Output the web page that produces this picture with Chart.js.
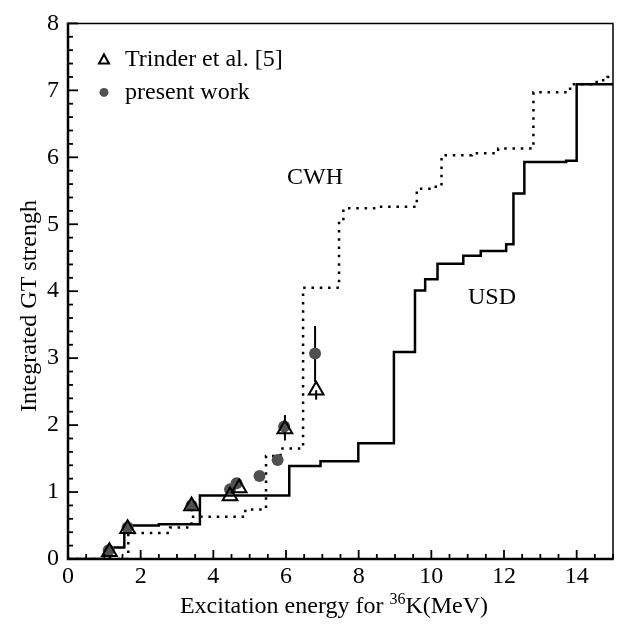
<!DOCTYPE html>
<html><head><meta charset="utf-8">
<script src="https://cdn.jsdelivr.net/npm/chart.js@4.4.0/dist/chart.umd.min.js"></script>
<style>html,body{margin:0;padding:0;background:#fff;overflow:hidden}</style>
</head><body>
<canvas id="c" width="625" height="628" style="width:625px;height:628px;display:block"></canvas>
<script>
// ---- data ----
const usdE = [0, 1.15, 1.55, 2.50, 3.63, 6.09, 6.95, 7.99, 8.97, 9.55, 9.83, 10.17, 10.88, 11.36, 12.06, 12.26, 12.56, 13.71, 14.00, 15.00];
const usdV = [0, 0.17, 0.50, 0.52, 0.95, 1.39, 1.46, 1.73, 3.09, 4.01, 4.18, 4.41, 4.53, 4.60, 4.70, 5.46, 5.93, 5.95, 7.09, 7.09];
const cwhE = [0, 1.66, 2.81, 3.40, 4.88, 5.45, 5.85, 6.47, 7.46, 7.58, 8.53, 9.60, 10.05, 10.28, 11.11, 11.84, 12.81, 13.82, 14.55, 14.85, 15.00];
const cwhV = [0, 0.39, 0.47, 0.63, 0.74, 1.54, 1.65, 4.05, 5.04, 5.24, 5.26, 5.53, 5.56, 6.03, 6.06, 6.13, 6.97, 7.09, 7.15, 7.20, 7.21];
const trinderE = [1.14, 1.64, 3.40, 4.46, 4.71, 5.97, 6.83];
const trinderV = [0.11, 0.45, 0.79, 0.94, 1.06, 1.94, 2.52];
const trinderErrMinus = [0, 0, 0, 0, 0, 0.17, 0.14];
const trinderErrPlus  = [0, 0, 0, 0, 0, 0.21, 0];
const presentE = [1.12, 1.64, 3.40, 4.46, 4.64, 5.27, 5.77, 5.95, 6.80];
const presentV = [0.13, 0.47, 0.80, 1.04, 1.13, 1.24, 1.48, 1.98, 3.07];
const presentErrMinus = [0, 0, 0, 0, 0, 0, 0, 0, 0.425];
const presentErrPlus  = [0, 0, 0, 0, 0, 0, 0, 0, 0.41];
const xTickLabels = [0, 2, 4, 6, 8, 10, 12, 14];
const yTickLabels = [0, 1, 2, 3, 4, 5, 6, 7, 8];
const curveLabels = ['CWH', 'USD'];
const curveLabelE = [6.80, 11.67];
const curveLabelV = [5.70, 3.91];
const legendLabels = ['Trinder et al. [5]', 'present work'];
const xTitle = ['Excitation energy for ', '36', 'K(MeV)'];
const yTitle = 'Integrated GT strengh';

const FONT = "'Liberation Serif', 'Times New Roman', serif";
const FS = 24;
const GRAY = '#505050';
const pts = (E, V) => E.map((e, i) => ({x: e, y: V[i]}));

const overlay = {
  id: 'overlay',
  beforeDatasetsDraw(chart) {
    const {ctx, scales: {x, y}} = chart;
    ctx.save();
    ctx.strokeStyle = '#000'; ctx.lineWidth = 2;
    const bars = (E, V, lo, hi) => E.forEach((e, i) => {
      if (!lo[i] && !hi[i]) return;
      const px = x.getPixelForValue(e);
      ctx.beginPath();
      ctx.moveTo(px, y.getPixelForValue(V[i] - lo[i]));
      ctx.lineTo(px, y.getPixelForValue(V[i] + hi[i]));
      ctx.stroke();
    });
    bars(trinderE, trinderV, trinderErrMinus, trinderErrPlus);
    bars(presentE, presentV, presentErrMinus, presentErrPlus);
    ctx.restore();
  },
  afterDraw(chart) {
    const {ctx, chartArea: a, scales: {x, y}} = chart;
    ctx.save();
    // frame
    ctx.strokeStyle = '#000';
    ctx.lineWidth = 1.5;
    ctx.beginPath();
    ctx.moveTo(a.left, a.top); ctx.lineTo(a.right, a.top); ctx.lineTo(a.right, a.bottom);
    ctx.stroke();
    ctx.lineWidth = 2.5;
    ctx.beginPath();
    ctx.moveTo(a.left, a.top - 1); ctx.lineTo(a.left, a.bottom); ctx.lineTo(a.right + 0.75, a.bottom);
    ctx.stroke();
    // inward ticks
    ctx.lineWidth = 1.8;
    for (let v = 0; v <= 15.001; v += 0.5) {
      const px = x.getPixelForValue(v);
      const major = Math.abs(v / 2 - Math.round(v / 2)) < 1e-6;
      ctx.beginPath(); ctx.moveTo(px, a.bottom); ctx.lineTo(px, a.bottom - (major ? 9 : 5)); ctx.stroke();
    }
    for (let v = 0; v <= 8.001; v += 0.2) {
      const py = y.getPixelForValue(v);
      const major = Math.abs(v - Math.round(v)) < 1e-6;
      ctx.beginPath(); ctx.moveTo(a.left, py); ctx.lineTo(a.left + (major ? 10 : 5), py); ctx.stroke();
    }
    // curve labels
    ctx.fillStyle = '#000';
    ctx.font = FS + 'px ' + FONT;
    ctx.textAlign = 'center'; ctx.textBaseline = 'middle';
    curveLabels.forEach((t, i) => ctx.fillText(t, x.getPixelForValue(curveLabelE[i]), y.getPixelForValue(curveLabelV[i])));
    // legend
    const lx = a.left + 36, ly1 = a.top + 36, ly2 = a.top + 69;
    ctx.lineWidth = 2;
    ctx.beginPath();
    ctx.moveTo(lx, ly1 - 5); ctx.lineTo(lx + 5, ly1 + 4); ctx.lineTo(lx - 5, ly1 + 4); ctx.closePath();
    ctx.stroke();
    ctx.fillStyle = GRAY;
    ctx.beginPath(); ctx.arc(lx, ly2, 4.5, 0, Math.PI * 2); ctx.fill();
    ctx.fillStyle = '#000';
    ctx.textAlign = 'left';
    ctx.fillText(legendLabels[0], lx + 21, ly1);
    ctx.fillText(legendLabels[1], lx + 21, ly2);
    // x title with superscript
    const xf = FS + 'px ' + FONT, sf = '16px ' + FONT;
    ctx.font = xf; const w0 = ctx.measureText(xTitle[0]).width, w2 = ctx.measureText(xTitle[2]).width;
    ctx.font = sf; const w1 = ctx.measureText(xTitle[1]).width;
    let sx = 334 - (w0 + w1 + w2) / 2;
    const ty = 613;
    ctx.textAlign = 'left'; ctx.textBaseline = 'alphabetic';
    ctx.font = xf; ctx.fillText(xTitle[0], sx, ty); sx += w0;
    ctx.font = sf; ctx.fillText(xTitle[1], sx, ty - 9); sx += w1;
    ctx.font = xf; ctx.fillText(xTitle[2], sx, ty);
    // y title
    ctx.translate(30, 306);
    ctx.rotate(-Math.PI / 2);
    ctx.textAlign = 'center'; ctx.textBaseline = 'middle';
    ctx.font = FS + 'px ' + FONT;
    ctx.fillText(yTitle, 0, 0);
    ctx.restore();
  }
};

new Chart(document.getElementById('c'), {
  type: 'line',
  data: {
    datasets: [
      { label: 'Trinder', type: 'scatter', data: pts(trinderE, trinderV), order: 0,
        pointStyle: 'triangle', pointRadius: 8.5, pointBorderWidth: 2,
        pointBorderColor: '#000', pointBackgroundColor: 'rgba(0,0,0,0)', showLine: false },
      { label: 'present', type: 'scatter', data: pts(presentE, presentV), order: 1,
        pointStyle: 'circle', pointRadius: 6, pointBorderWidth: 0,
        pointBackgroundColor: GRAY, pointBorderColor: GRAY, showLine: false },
      { label: 'USD', data: pts(usdE, usdV), order: 2, stepped: 'before',
        borderColor: '#000', borderWidth: 2.5, pointRadius: 0, fill: false },
      { label: 'CWH', data: pts(cwhE, cwhV), order: 3, stepped: 'before',
        borderColor: '#000', borderWidth: 2.5, borderDash: [2.5, 5.8], pointRadius: 0, fill: false }
    ]
  },
  options: {
    responsive: false, animation: false,
    layout: { padding: { left: 0, right: 12, top: 13, bottom: 0 } },
    plugins: { legend: { display: false }, tooltip: { enabled: false } },
    scales: {
      x: { type: 'linear', min: 0, max: 15,
        afterBuildTicks: s => { s.ticks = xTickLabels.map(v => ({value: v})); },
        afterFit: s => { s.height = 69; },
        grid: { display: false, drawTicks: false }, border: { display: false },
        ticks: { color: '#000', font: { family: FONT, size: FS }, padding: 3, maxRotation: 0, autoSkip: false } },
      y: { type: 'linear', min: 0, max: 8,
        afterBuildTicks: s => { s.ticks = yTickLabels.map(v => ({value: v})); },
        afterFit: s => { s.width = 68; },
        grid: { display: false, drawTicks: false }, border: { display: false },
        ticks: { color: '#000', font: { family: FONT, size: FS }, padding: 9, autoSkip: false } }
    }
  },
  plugins: [overlay]
});
</script>
</body></html>
